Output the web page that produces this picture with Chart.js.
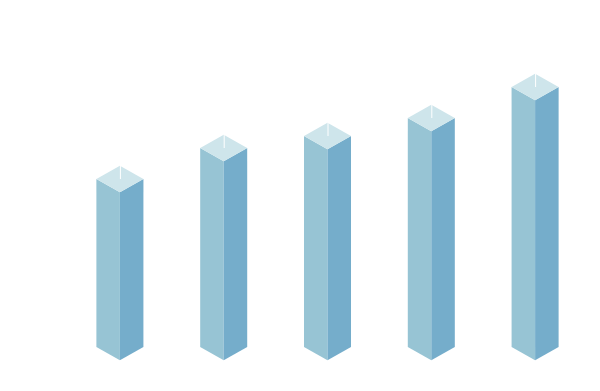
<!DOCTYPE html>
<html>
<head>
<meta charset="utf-8">
<script src="https://cdn.jsdelivr.net/npm/chart.js@4"></script>
<style>
  body { margin: 0; background: #fff; }
  #wrap { width: 600px; height: 391px; position: relative; }
</style>
</head>
<body>
<div id="wrap"><canvas id="myChart"></canvas></div>
<script>
const categories = ['1', '2', '3', '4', '5'];
const values = [168, 199, 211, 229, 260];
const yMax = 300;

const leftColor = '#97c4d4';
const rightColor = '#75adcb';
const topColor = '#cee5eb';

// draws each bar as an isometric box on top of the (invisible) bar elements
const boxPlugin = {
  id: 'box3d',
  afterDatasetsDraw(chart) {
    const c = chart.ctx;
    chart.getDatasetMeta(0).data.forEach(bar => {
      const x = bar.x, y = bar.y, base = bar.base;
      const w = bar.width / 2;
      const d = w * 0.56;
      c.save();
      // left face
      c.fillStyle = leftColor;
      c.beginPath();
      c.moveTo(x - w, y);
      c.lineTo(x, y + d);
      c.lineTo(x, base + d);
      c.lineTo(x - w, base);
      c.closePath();
      c.fill();
      // right face
      c.fillStyle = rightColor;
      c.beginPath();
      c.moveTo(x, y + d);
      c.lineTo(x + w, y);
      c.lineTo(x + w, base);
      c.lineTo(x, base + d);
      c.closePath();
      c.fill();
      // top
      c.fillStyle = topColor;
      c.beginPath();
      c.moveTo(x, y - d);
      c.lineTo(x + w, y);
      c.lineTo(x, y + d);
      c.lineTo(x - w, y);
      c.closePath();
      c.fill();
      // little white mark on the top
      c.strokeStyle = '#ffffff';
      c.lineWidth = 1;
      c.beginPath();
      c.moveTo(x + 0.5, y - d);
      c.lineTo(x + 0.5, y);
      c.stroke();
      c.restore();
    });
  }
};

const ctx1 = document.getElementById('myChart');

new Chart(ctx1, {
  type: 'bar',
  data: {
    labels: categories,
    datasets: [{
      data: values,
      backgroundColor: 'rgba(0,0,0,0)',
      borderWidth: 0,
      categoryPercentage: 1,
      barPercentage: 0.453
    }]
  },
  options: {
    responsive: true,
    maintainAspectRatio: false,
    animation: false,
    layout: { padding: { left: 68, right: 13, top: 47, bottom: 44 } },
    plugins: {
      legend: { display: false },
      tooltip: { enabled: false }
    },
    scales: {
      x: { display: false },
      y: { display: false, min: 0, max: yMax }
    }
  },
  plugins: [boxPlugin]
});
</script>
</body>
</html>
